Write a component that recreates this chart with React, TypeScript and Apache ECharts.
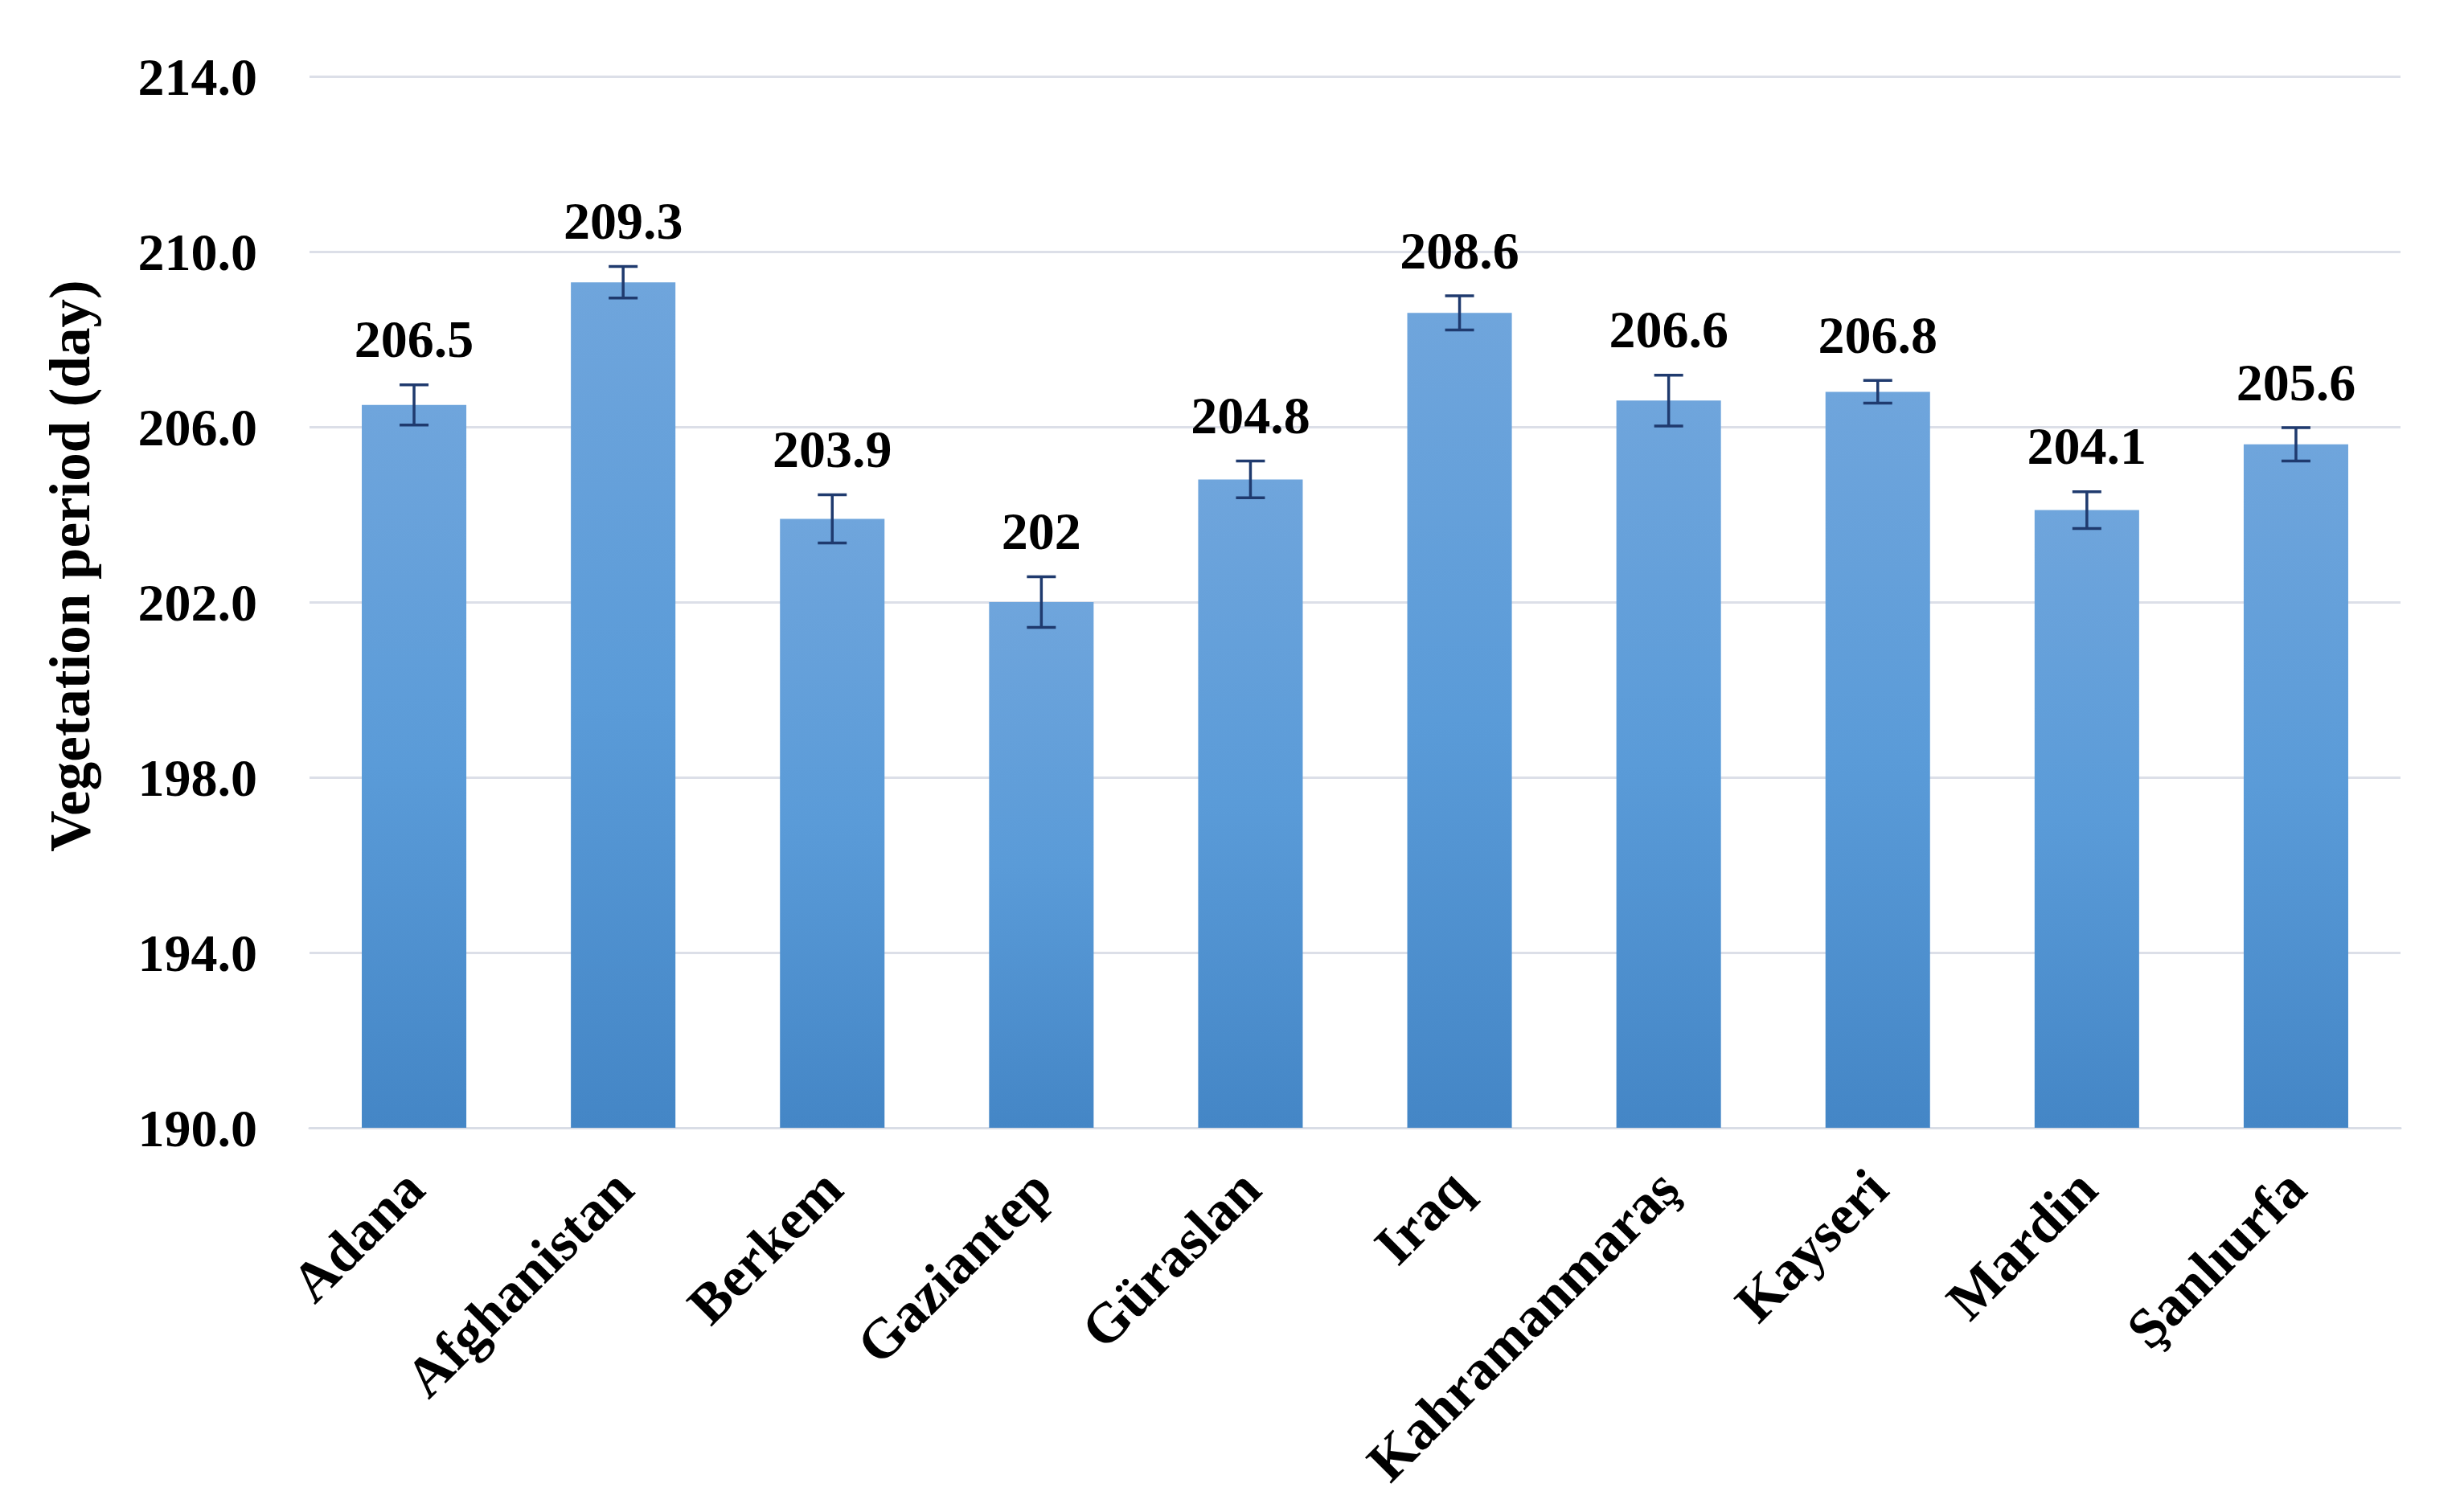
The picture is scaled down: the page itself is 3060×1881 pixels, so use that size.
import React, { useEffect, useRef } from "react";
import * as echarts from "echarts";

const categories = [
  "Adana",
  "Afghanistan",
  "Berkem",
  "Gaziantep",
  "Güraslan",
  "Iraq",
  "Kahramanmaraş",
  "Kayseri",
  "Mardin",
  "Şanlıurfa",
];
const values = [206.5, 209.3, 203.9, 202, 204.8, 208.6, 206.6, 206.8, 204.1, 205.6];
const errors = [0.46, 0.36, 0.55, 0.58, 0.42, 0.39, 0.58, 0.26, 0.42, 0.38];
const yMin = 190;
const yMax = 214;
const yStep = 4;
const yTitle = "Vegetation period (day)";

const FONT = '"Liberation Serif", "Times New Roman", serif';

export default function App() {
  const ref = useRef<HTMLDivElement>(null);

  useEffect(() => {
    if (!ref.current) return;
    const chart = echarts.init(ref.current, null, { renderer: "svg" });
    const errColor = "#1f3a6e";
    const option = {
      animation: false,
      backgroundColor: "#ffffff",
      grid: { left: 385, right: 74, top: 95, bottom: 478, containLabel: false },
      xAxis: {
        type: "category",
        data: categories,
        boundaryGap: true,
        axisLine: { show: true, lineStyle: { color: "#d9dde6", width: 3 } },
        axisTick: { show: false },
        axisLabel: {
          rotate: 45,
          margin: 64,
          interval: 0,
          color: "#000",
          fontFamily: FONT,
          fontWeight: "bold",
          fontSize: 70,
        },
      },
      yAxis: {
        type: "value",
        min: yMin,
        max: yMax,
        interval: yStep,
        axisLine: { show: false },
        axisTick: { show: false },
        splitLine: { show: true, lineStyle: { color: "#dcdfe8", width: 3 } },
        axisLabel: {
          margin: 65,
          color: "#000",
          fontFamily: FONT,
          fontWeight: "bold",
          fontSize: 66,
          formatter: (v: number) => v.toFixed(1),
        },
      },
      graphic: [
        {
          type: "text",
          x: 87,
          y: 704,
          rotation: Math.PI / 2,
          style: {
            text: yTitle,
            align: "center",
            verticalAlign: "middle",
            fontFamily: FONT,
            fontWeight: "bold",
            fontSize: 71,
            fill: "#000",
          },
        },
      ],
      series: [
        {
          type: "bar",
          data: values,
          barWidth: "50%",
          itemStyle: {
            color: new echarts.graphic.LinearGradient(0, 0, 0, 1, [
              { offset: 0, color: "#6fa5dc" },
              { offset: 0.5, color: "#5a9bd8" },
              { offset: 1, color: "#4486c6" },
            ]),
          },
          z: 2,
        },
        {
          type: "custom",
          z: 5,
          data: values.map((v, i) => [i, v, errors[i]]),
          encode: { x: 0, y: 1 },
          renderItem: (params: any, api: any) => {
            const i = api.value(0);
            const v = api.value(1);
            const e = api.value(2);
            const top = api.coord([i, v + e]);
            const bot = api.coord([i, v - e]);
            const cap = 18;
            const ls = { stroke: errColor, lineWidth: 3.5 };
            return {
              type: "group",
              children: [
                { type: "line", shape: { x1: top[0], y1: top[1], x2: bot[0], y2: bot[1] }, style: ls },
                { type: "line", shape: { x1: top[0] - cap, y1: top[1], x2: top[0] + cap, y2: top[1] }, style: ls },
                { type: "line", shape: { x1: bot[0] - cap, y1: bot[1], x2: bot[0] + cap, y2: bot[1] }, style: ls },
                {
                  type: "text",
                  x: top[0],
                  y: top[1] - 24,
                  style: {
                    text: String(values[i]),
                    align: "center",
                    verticalAlign: "bottom",
                    fontFamily: FONT,
                    fontWeight: "bold",
                    fontSize: 66,
                    fill: "#000",
                  },
                },
              ],
            };
          },
        },
      ],
    };
    chart.setOption(option as any);
    return () => chart.dispose();
  }, []);

  return (
    <div
      ref={ref}
      style={{ position: "fixed", left: 0, top: 0, width: 3060, height: 1881, background: "#fff" }}
    />
  );
}
